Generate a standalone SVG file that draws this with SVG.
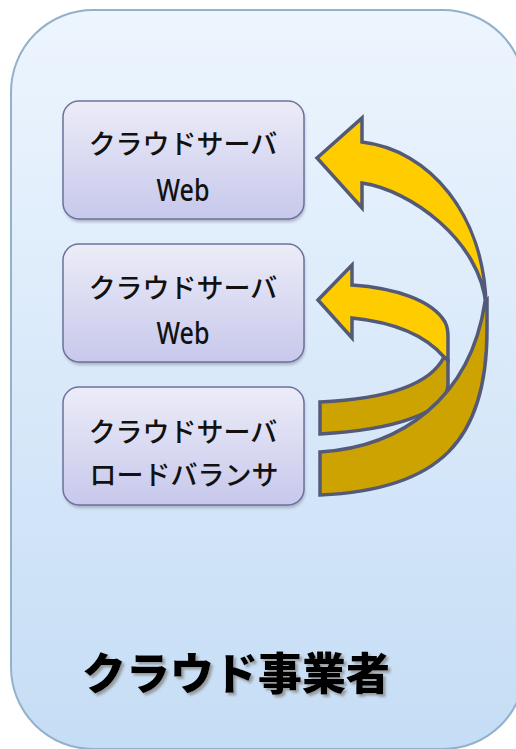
<svg xmlns="http://www.w3.org/2000/svg" width="516" height="749" viewBox="0 0 516 749">
<defs>
<linearGradient id="bg" x1="0" y1="0" x2="0" y2="1">
<stop offset="0" stop-color="#edf5fe"/>
<stop offset="1" stop-color="#c5ddf5"/>
</linearGradient>
<linearGradient id="box" x1="0" y1="0" x2="0" y2="1">
<stop offset="0" stop-color="#ececf8"/>
<stop offset="1" stop-color="#c7c8ec"/>
</linearGradient>
<filter id="sh" x="-10%" y="-10%" width="130%" height="130%">
<feGaussianBlur stdDeviation="1.5"/>
</filter>
<filter id="tsh" x="-5%" y="-10%" width="115%" height="130%">
<feDropShadow dx="2.5" dy="2.5" stdDeviation="0.8" flood-color="#8a8a8a" flood-opacity="0.8"/>
</filter>
<style>
.box{fill:url(#box);stroke:#6d7299;stroke-width:1.5}
.bsh{fill:#8a8fa8;opacity:0.6;filter:url(#sh)}
.t{font-family:"Noto Sans CJK JP","Noto Sans",sans-serif;font-size:27px;font-weight:500;fill:#111;text-anchor:middle}
.w{font-family:"Noto Sans","Noto Sans CJK JP",sans-serif;font-size:31px;font-weight:500;fill:#111;text-anchor:middle}
.y{fill:#ffcc00;stroke:#535976;stroke-width:3.5;stroke-linejoin:miter}
.d{fill:#cca300;stroke:#535976;stroke-width:3.5;stroke-linejoin:miter}
.title{font-family:"Noto Sans CJK JP",sans-serif;font-size:44px;font-weight:900;fill:#000;filter:url(#tsh)}
</style>
</defs>
<g id="provider">
<rect x="11" y="10" width="514" height="739" rx="82" ry="82" fill="url(#bg)" stroke="#93b1ca" stroke-width="2"/>
<text class="title" x="82" y="690">クラウド事業者</text>
</g>
<g id="web1">
<rect class="bsh" x="64" y="104" width="241" height="118" rx="16"/>
<rect class="box" x="63" y="101" width="241" height="118" rx="16"/>
<text class="t" x="183" y="154">クラウドサーバ</text>
<text class="w" x="183" y="201" textLength="53" lengthAdjust="spacingAndGlyphs">Web</text>
</g>
<g id="web2">
<rect class="bsh" x="64" y="247" width="241" height="118" rx="16"/>
<rect class="box" x="63" y="244" width="241" height="118" rx="16"/>
<text class="t" x="183" y="298">クラウドサーバ</text>
<text class="w" x="183" y="344" textLength="53" lengthAdjust="spacingAndGlyphs">Web</text>
</g>
<g id="lb">
<rect class="bsh" x="64" y="390" width="241" height="118" rx="16"/>
<rect class="box" x="63" y="387" width="241" height="118" rx="16"/>
<text class="t" x="183" y="442">クラウドサーバ</text>
<text class="t" x="184" y="485">ロードバランサ</text>
</g>
<g id="connectors">
<path class="d" d="M320,402 C385,399 430,385 444,357 L448,360 L448,385 C446,414 392,430 320,434 Z"/>
<path class="y" d="M318,300 L352,265 L352,285 C395,288 432,300 445,322 Q448,328 448,336 L448,360 L444,357 C425,335 392,322 352,318 L352,338 Z"/>
<path class="d" d="M320,452 C400,447 470,400 485,302 L487,300 L487,330 C487,440 440,490 320,495 Z"/>
<path class="y" d="M317,158 L362,118 L362,142 C430,150 484,215 486,305 C480,240 410,190 362,183 L362,208 Z"/>
</g>
</svg>
